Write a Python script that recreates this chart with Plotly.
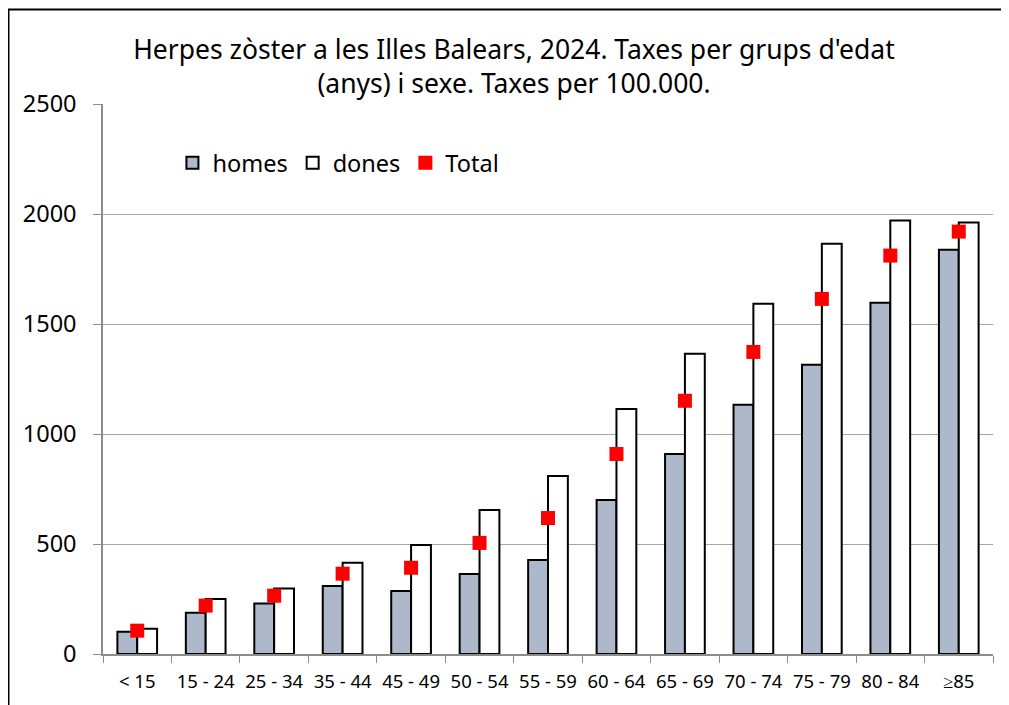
import plotly.graph_objects as go

categories = ["< 15", "15 - 24", "25 - 34", "35 - 44", "45 - 49", "50 - 54", "55 - 59",
              "60 - 64", "65 - 69", "70 - 74", "75 - 79", "80 - 84", "≥85"]
homes = [101, 188, 230, 309, 286, 364, 427, 700, 909, 1133, 1315, 1597, 1838]
dones = [115, 250, 298, 415, 495, 655, 809, 1114, 1365, 1592, 1865, 1970, 1961]
total = [106, 220, 265, 365, 392, 505, 618, 909, 1151, 1373, 1614, 1811, 1920]
y_ticks = [0, 500, 1000, 1500, 2000, 2500]

FONT = "Noto Sans"
W, H = 1001, 697
ML, MR, MT, MB = 95, 16, 96, 51
PW, PH = W - ML - MR, H - MT - MB

fig = go.Figure()
fig.add_trace(go.Bar(name="homes", x=categories, y=homes,
                     marker=dict(color="#adb9ca", line=dict(color="black", width=2))))
fig.add_trace(go.Bar(name="dones", x=categories, y=dones,
                     marker=dict(color="white", line=dict(color="black", width=2))))
fig.add_trace(go.Scatter(name="Total", x=categories, y=total, mode="markers",
                         marker=dict(symbol="square", size=14, color="#ff0000")))

fig.update_layout(
    width=W, height=H,
    paper_bgcolor="white", plot_bgcolor="white",
    margin=dict(l=ML, r=MR, t=MT, b=MB, autoexpand=False),
    barmode="group", bargap=0.42, bargroupgap=0,
    font=dict(family=FONT, color="black"),
    title=dict(text="Herpes zòster a les Illes Balears, 2024. Taxes per grups d'edat<br>(anys) i sexe. Taxes per 100.000.",
               x=0.5055, xanchor="center", y=0.927, yanchor="middle",
               font=dict(family=FONT, size=26.5, color="black")),
    legend=dict(orientation="h", x=0.078, y=0.893, xanchor="left", yanchor="middle",
                font=dict(family=FONT, size=23.5, color="black"),
                bgcolor="rgba(0,0,0,0)", itemwidth=30),
    showlegend=True,
)
fig.update_xaxes(range=[-0.5, len(categories) - 0.5],
                 showline=True, linecolor="#8c8c8c", linewidth=1.5,
                 ticks="outside", tickson="boundaries", ticklen=7, tickcolor="#8c8c8c",
                 tickfont=dict(family=FONT, size=18.5, color="black"),
                 tickangle=0, automargin=False, ticklabelstandoff=10,
                 showgrid=False)
fig.update_yaxes(range=[0, 2500], tickvals=y_ticks, showline=True, linecolor="#8c8c8c", linewidth=1.5,
                 ticks="outside", ticklen=8, tickcolor="#8c8c8c",
                 tickfont=dict(family=FONT, size=23.5, color="black"),
                 showgrid=True, gridcolor="#a6a6a6", gridwidth=1.2, zeroline=False,
                 automargin=False, ticklabelstandoff=12)
# outer chart frame (left and top edges)
fig.add_shape(type="line", xref="paper", yref="paper",
              x0=-(ML - 0.5) / PW, x1=-(ML - 0.5) / PW, y0=-MB / PH, y1=1 + (MT - 1) / PH,
              line=dict(color="black", width=2))
fig.add_shape(type="line", xref="paper", yref="paper",
              x0=-ML / PW, x1=1 + MR / PW, y0=1 + (MT - 1.5) / PH, y1=1 + (MT - 1.5) / PH,
              line=dict(color="black", width=2))
fig.write_html("out.html")
